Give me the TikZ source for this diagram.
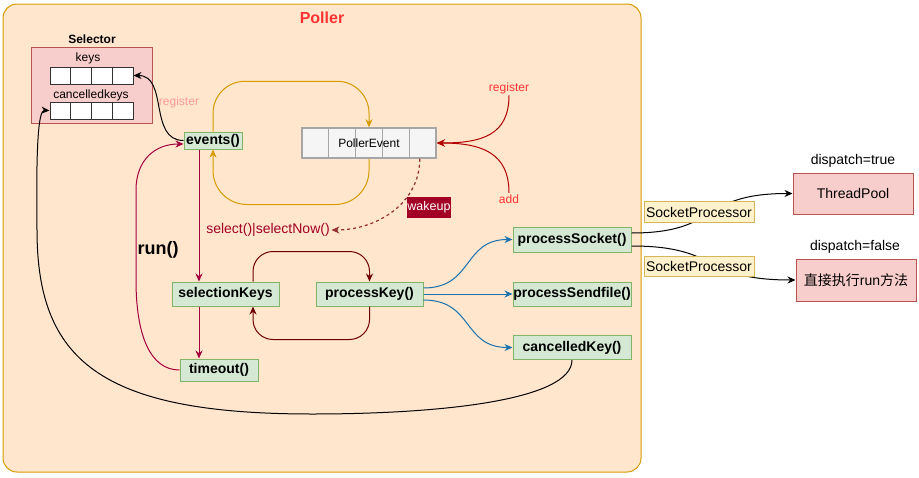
\documentclass[tikz,border=0pt]{standalone}
\usepackage{fontspec}
\setmainfont{Liberation Sans}
\newfontfamily\cjk{Noto Sans CJK SC}
\usetikzlibrary{arrows.meta,calc}
\newcommand\fsz[1]{\fontsize{#1}{#1}\selectfont}
\definecolor{pfill}{HTML}{FFE6CC}
\definecolor{pline}{HTML}{D79B00}
\definecolor{gfill}{HTML}{D5E8D4}
\definecolor{gline}{HTML}{82B366}
\definecolor{rfill}{HTML}{F8CECC}
\definecolor{rline}{HTML}{B85450}
\definecolor{yfill}{HTML}{FFF2CC}
\definecolor{yline}{HTML}{D6B656}
\definecolor{efill}{HTML}{F5F5F5}
\definecolor{eline}{HTML}{A6A6A6}
\definecolor{ored}{HTML}{FF3333}
\definecolor{pinkish}{HTML}{FF9999}
\definecolor{crim}{HTML}{A50040}
\definecolor{dred}{HTML}{6F0000}
\definecolor{rred}{HTML}{B20000}
\definecolor{dashred}{HTML}{963030}
\definecolor{wred}{HTML}{A20025}
\definecolor{blu}{HTML}{1A72AE}
\begin{document}
\begin{tikzpicture}[x=1pt,y=-1pt,
  box/.style={draw, line width=1pt, inner sep=0pt, align=center},
  gbox/.style={box, fill=gfill, draw=gline, font=\fsz{14}\bfseries},
  rbox/.style={box, fill=rfill, draw=rline},
  ybox/.style={box, fill=yfill, draw=yline, font=\fsz{14}},
  txt/.style={inner sep=1.5pt},
  arr/.style={-{Stealth[length=8pt,width=7pt]}, line width=1pt}]
\useasboundingbox (0,0) rectangle (919,477);
% container
\node[draw=pline, fill=pfill, line width=1pt, rounded corners=14pt,
  minimum width=638, minimum height=468, inner sep=0] (poller) at (322,238) {};
\node[txt, font=\fsz{16}\bfseries, text=ored] (ptitle) at (322,18) {Poller};
% selector
\node[txt, font=\fsz{12}\bfseries] (sellab) at (92,39) {Selector};
\node[rbox, minimum width=121, minimum height=76] (selector) at (91.5,85) {};
\node[txt, font=\fsz{12}] (keyslab) at (88,58) {keys};
\node[box, fill=white, draw=black!80, minimum width=83, minimum height=17] (keysrow) at (91.5,75.5) {};
\node[txt, font=\fsz{12}] (cklab) at (91,95) {cancelledkeys};
\node[box, fill=white, draw=black!80, minimum width=83, minimum height=17] (ckrow) at (91.5,110.5) {};
\foreach \f in {0.25,0.5,0.75}{
  \draw[line width=1pt, black!80] ($(keysrow.north west)!\f!(keysrow.north east)$) -- ($(keysrow.south west)!\f!(keysrow.south east)$);
  \draw[line width=1pt, black!80] ($(ckrow.north west)!\f!(ckrow.north east)$) -- ($(ckrow.south west)!\f!(ckrow.south east)$);
}
% nodes
\node[gbox, minimum width=58, minimum height=17] (events) at (213,140.5) {events()};
\node[box, fill=efill, draw=eline, line width=1.5pt, minimum width=134, minimum height=30] (pe) at (369,143) {};
\foreach \f in {0.2,0.4,0.6,0.8}{
  \draw[line width=1.5pt, eline] ($(pe.north west)!\f!(pe.north east)$) -- ($(pe.south west)!\f!(pe.south east)$);
}
\node[txt, font=\fsz{12}] (petext) at (pe.center) {PollerEvent};
\node[gbox, minimum width=107, minimum height=24] (selk) at (225.5,294) {selectionKeys};
\node[gbox, minimum width=107, minimum height=24] (pk) at (369.5,294) {processKey()};
\node[gbox, minimum width=78, minimum height=22] (timeout) at (219,370) {timeout()};
\node[gbox, minimum width=118, minimum height=25] (ps) at (572,239.5) {processSocket()};
\node[gbox, minimum width=118, minimum height=24] (psf) at (572,294) {processSendfile()};
\node[gbox, minimum width=118, minimum height=24] (ck) at (572,347.5) {cancelledKey()};
\node[rbox, font=\fsz{14}, minimum width=120, minimum height=41] (tp) at (853,193.5) {ThreadPool};
\node[rbox, font=\fsz{14}, minimum width=120, minimum height=42] (direct) at (856,280) {{\cjk 直接执行}run{\cjk 方法}};
\node[txt, font=\fsz{14}] (dtrue) at (853,161) {dispatch=true};
\node[txt, font=\fsz{14}] (dfalse) at (855,247) {dispatch=false};
% texts
\node[txt, font=\fsz{12}, text=pinkish] (reg1) at (179,102) {register};
\node[txt, font=\fsz{12}, text=ored] (reg2) at (509,88) {register};
\node[txt, font=\fsz{12}, text=ored] (addl) at (509,199) {add};
\node[txt, font=\fsz{14}, text=wred] (sel) at (268,230) {select()|selectNow()};
\node[txt, font=\fsz{18}\bfseries] (run) at (158,250) {run()};
\coordinate (vx) at (199,0);
% connectors
\draw[arr, black] (events.west) .. controls +(-35,0) and +(35,0) .. (keysrow.east);
\draw[arr, pline, rounded corners=32pt] (events.north) |- ($(pe.north)+(0,-46)$) -- (pe.north);
\draw[arr, pline, rounded corners=34pt] (pe.south) |- ($(events.south)+(0,55)$) -- (events.south);
\draw[arr, rred] (reg2.south) .. controls +(0,40) and +(45,0) .. (pe.east);
\draw[arr, rred] (addl.north) .. controls +(0,-40) and +(45,0) .. (pe.east);
\draw[arr, dashred, dashed, line width=1.2pt] ($(pe.south east)+(-17,0)$) .. controls +(0,45) and +(45,0) .. (sel.east);
\node[box, fill=wred, draw=wred, text=white, font=\fsz{12.5}, minimum width=40, minimum height=20] (wakeup) at (429,207) {wakeup};
\draw[arr, crim] (events.south -| vx) -- (selk.north -| vx);
\draw[arr, crim] (selk.south -| vx) -- (timeout.north -| vx);
\draw[arr, crim] (timeout.west) .. controls (150,370) and (136,335) .. (136,280) -- (136,190) .. controls (136,160) and (155,144) .. ($(events.west)+(0,3.5)$);
\draw[arr, dred, rounded corners=20pt] ($(selk.north)+(27.5,0)$) |- ($(pk.north)+(0,-30)$) -- (pk.north);
\draw[arr, dred, rounded corners=20pt] (pk.south) |- ($(selk.south)+(27.5,33)$) -- ($(selk.south)+(27.5,0)$);
\draw[arr, blu] ($(pk.east)+(0,-6)$) .. controls +(50,0) and +(-50,0) .. (ps.west);
\draw[arr, blu] (pk.east) -- (psf.west);
\draw[arr, blu] ($(pk.east)+(0,6)$) .. controls +(50,0) and +(-50,0) .. (ck.west);
\draw[arr, black] (ck.south) .. controls +(0,40) and +(130,0) .. (312,414) .. controls (100,414) and (37,360) .. (37,230) .. controls (36,150) and (38,110) .. (ckrow.west);
\draw[arr, black] ($(ps.east)+(0,-6.5)$) .. controls +(90,0) and +(-95,0) .. (tp.west);
\draw[arr, black] ($(ps.east)+(0,6.5)$) .. controls +(90,0) and +(-95,0) .. (direct.west);
\node[ybox, minimum width=110, minimum height=21] (sp1) at (699,212) {SocketProcessor};
\node[ybox, minimum width=110, minimum height=20] (sp2) at (699,266) {SocketProcessor};
\end{tikzpicture}
\end{document}
